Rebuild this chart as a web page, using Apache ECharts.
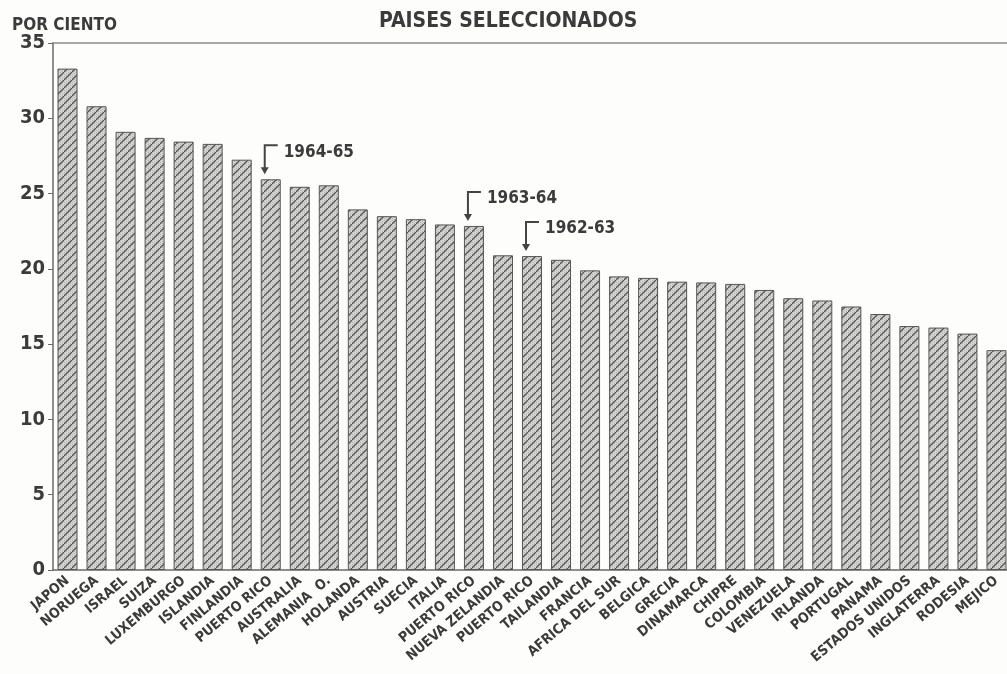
<!DOCTYPE html>
<html>
<head>
<meta charset="utf-8">
<script src="https://cdn.jsdelivr.net/npm/echarts@6/dist/echarts.min.js"></script>
<style>
  html, body { margin: 0; padding: 0; background: #fdfdfc; }
  #chart { width: 1007px; height: 674px; }
</style>
</head>
<body>
<div id="chart"></div>
<script>
const countries = ['JAPON', 'NORUEGA', 'ISRAEL', 'SUIZA', 'LUXEMBURGO', 'ISLANDIA', 'FINLANDIA',
  'PUERTO RICO', 'AUSTRALIA', 'ALEMANIA  O.', 'HOLANDA', 'AUSTRIA', 'SUECIA', 'ITALIA',
  'PUERTO RICO', 'NUEVA ZELANDIA', 'PUERTO RICO', 'TAILANDIA', 'FRANCIA', 'AFRICA DEL SUR',
  'BELGICA', 'GRECIA', 'DINAMARCA', 'CHIPRE', 'COLOMBIA', 'VENEZUELA', 'IRLANDA', 'PORTUGAL',
  'PANAMA', 'ESTADOS UNIDOS', 'INGLATERRA', 'RODESIA', 'MEJICO']
const percent = [33.3, 30.8, 29.1, 28.7, 28.45, 28.3, 27.25, 25.95, 25.45, 25.55, 23.95, 23.5,
  23.3, 22.95, 22.85, 20.9, 20.85, 20.6, 19.9, 19.5, 19.4, 19.15, 19.1, 19.0, 18.6, 18.05,
  17.9, 17.5, 17.0, 16.2, 16.1, 15.7, 14.6]
const yTicks = [0, 5, 10, 15, 20, 25, 30, 35]
// periods noted for the Puerto Rico bars
const notes = [
  { index: 7, label: '1964-65' },
  { index: 14, label: '1963-64' },
  { index: 16, label: '1962-63' }
]

const FONT = '"DejaVu Sans Condensed", "Liberation Sans Narrow", sans-serif'
const INK = '#3b3b3b'

// hatch pattern: stippled grey with diagonal dashes
const makeHatch = () => {
  const c = document.createElement('canvas')
  c.width = 8
  c.height = 8
  const ctx = c.getContext('2d')
  ctx.fillStyle = '#d4d4d2'
  ctx.fillRect(0, 0, 8, 8)
  ctx.fillStyle = '#b2b2b0'
  for (let i = 0; i < 8; i += 2) {
    for (let j = (i / 2) % 2; j < 8; j += 2) ctx.fillRect(i, j, 1, 1)
  }
  ctx.strokeStyle = '#555553'
  ctx.lineWidth = 1.3
  ctx.beginPath()
  ctx.moveTo(-1, 9)
  ctx.lineTo(9, -1)
  ctx.stroke()
  return c
}

const chart = echarts.init(document.getElementById('chart'))

const option = {
  animation: false,
  backgroundColor: '#fdfdfc',
  title: [
    {
      text: 'PAISES SELECCIONADOS',
      left: 374,
      top: 6,
      textStyle: { fontFamily: FONT, fontSize: 21, fontWeight: 'bold', color: INK }
    },
    {
      text: 'POR CIENTO',
      left: 7,
      top: 12,
      textStyle: { fontFamily: FONT, fontSize: 17, fontWeight: 'bold', color: INK }
    }
  ],
  grid: { left: 53, right: -4, top: 43, bottom: 104, containLabel: false, outerBoundsMode: 'none' },
  xAxis: [
    {
      type: 'category',
      data: countries,
      axisTick: { show: false },
      axisLine: { lineStyle: { color: '#6a6a6a', width: 1.5 } },
      axisLabel: {
        interval: 0,
        rotate: 40,
        margin: 9,
        fontFamily: FONT,
        fontSize: 14,
        fontWeight: 'bold',
        color: INK
      }
    },
    {
      type: 'category',
      position: 'top',
      data: countries,
      axisTick: { show: false },
      axisLabel: { show: false },
      axisLine: { lineStyle: { color: '#8a8a8a', width: 1.5 } }
    }
  ],
  yAxis: {
    type: 'value',
    min: yTicks[0],
    max: yTicks[yTicks.length - 1],
    interval: 5,
    splitLine: { show: false },
    axisLine: { show: true, lineStyle: { color: '#6a6a6a', width: 1.5 } },
    axisTick: { show: true, length: 5, lineStyle: { color: '#6a6a6a' } },
    axisLabel: {
      margin: 8,
      fontFamily: FONT,
      fontSize: 20,
      fontWeight: 'bold',
      color: INK
    }
  },
  series: [
    {
      type: 'bar',
      data: percent,
      barWidth: 20,
      itemStyle: {
        color: { image: makeHatch(), repeat: 'repeat' },
        borderColor: '#555',
        borderWidth: 1
      }
    }
  ]
}

chart.setOption(option)

// bracket arrows + period labels above the Puerto Rico bars
const graphics = []
notes.forEach(n => {
  const [px, py] = chart.convertToPixel({ seriesIndex: 0 }, [n.index, percent[n.index]])
  const x = px - 6
  const tip = py - 5
  const top = tip - 29
  graphics.push({
    type: 'polyline',
    shape: { points: [[x + 13, top], [x, top], [x, tip - 5]] },
    style: { stroke: '#444', lineWidth: 2, fill: null }
  })
  graphics.push({
    type: 'polygon',
    shape: { points: [[x - 4, tip - 7], [x + 4, tip - 7], [x, tip]] },
    style: { fill: '#444' }
  })
  graphics.push({
    type: 'text',
    x: x + 19,
    y: top + 7,
    style: {
      text: n.label,
      font: 'bold 17px ' + FONT,
      fill: INK,
      verticalAlign: 'middle'
    }
  })
})
chart.setOption({ graphic: graphics })

window.addEventListener('resize', () => chart.resize())
</script>
</body>
</html>
